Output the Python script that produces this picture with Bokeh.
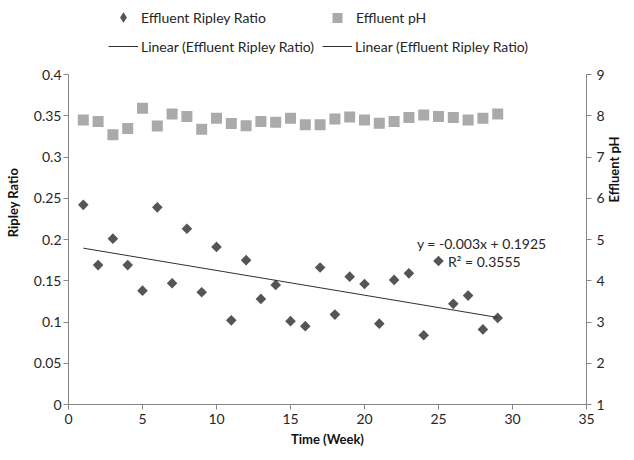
import numpy as np
from bokeh.plotting import figure
from bokeh.models import (Range1d, LinearAxis, FixedTicker, Legend, LegendItem,
                          Label, ColumnDataSource)
from bokeh.embed import file_html
from bokeh.resources import INLINE

# ---- data ----
weeks = list(range(1, 30))
ripley_ratio = [0.242, 0.169, 0.201, 0.169, 0.138, 0.239, 0.147, 0.213, 0.136, 0.191,
                0.102, 0.175, 0.128, 0.145, 0.101, 0.095, 0.166, 0.109, 0.155, 0.146,
                0.098, 0.151, 0.159, 0.084, 0.174, 0.122, 0.132, 0.091, 0.105]
effluent_ph = [7.90, 7.86, 7.54, 7.69, 8.18, 7.75, 8.04, 7.98, 7.67, 7.94,
               7.81, 7.76, 7.86, 7.84, 7.94, 7.78, 7.78, 7.92, 7.97, 7.90,
               7.82, 7.86, 7.96, 8.02, 7.98, 7.96, 7.90, 7.94, 8.04]
trend_slope = -0.003
trend_intercept = 0.1925
trend_r2 = 0.3555

x_ticks = [0, 5, 10, 15, 20, 25, 30, 35]
x_tick_labels = ["0", "5", "10", "15", "20", "25", "30", "35"]
y_ticks = [0, 0.05, 0.1, 0.15, 0.2, 0.25, 0.3, 0.35, 0.4]
y_tick_labels = ["0", "0.05", "0.1", "0.15", "0.2", "0.25", "0.3", "0.35", "0.4"]
ph_ticks = [1, 2, 3, 4, 5, 6, 7, 8, 9]
ph_tick_labels = ["1", "2", "3", "4", "5", "6", "7", "8", "9"]

trend_x = [weeks[0], weeks[-1]]
trend_y = [trend_intercept + trend_slope * w for w in trend_x]

FONT = "Lato"
AX = "#868686"
TXT = "#262626"
DIAMOND = "#555555"
SQUARE = "#aaaaaa"

# layout: frame spans the full height above the x axis so that the legend
# (drawn inside the frame) stays visible; axes are bounded to the data span.
H, BOTTOM, AXIS_SPAN = 460, 56, 330
frame_h = H - BOTTOM
y_lo, y_hi = y_ticks[0], y_ticks[-1]
ph_lo, ph_hi = ph_ticks[0], ph_ticks[-1]
y_end = y_lo + (y_hi - y_lo) * frame_h / AXIS_SPAN
ph_end = ph_lo + (ph_hi - ph_lo) * frame_h / AXIS_SPAN

p = figure(width=634, height=H, x_range=Range1d(x_ticks[0], x_ticks[-1]),
           y_range=Range1d(y_lo, y_end),
           output_backend="svg", toolbar_location=None,
           min_border_left=68, min_border_right=48, min_border_top=0,
           min_border_bottom=BOTTOM)
p.extra_y_ranges = {"ph": Range1d(ph_lo, ph_end)}
p.outline_line_color = None
p.xgrid.visible = False
p.ygrid.visible = False
p.background_fill_color = "white"

src_r = ColumnDataSource(dict(x=weeks, y=ripley_ratio))
src_p = ColumnDataSource(dict(x=weeks, y=effluent_ph))

r_ph = p.scatter("x", "y", source=src_p, marker="square", size=11,
                 fill_color=SQUARE, line_color=None, y_range_name="ph")
# narrow diamond (used as legend glyph), fully covered by the rotated squares
r_rip_leg = p.scatter("x", "y", source=src_r, marker="diamond", size=9,
                      fill_color=DIAMOND, line_color=None)
r_rip = p.scatter("x", "y", source=src_r, marker="square", size=7.5, angle=np.pi / 4,
                  fill_color=DIAMOND, line_color=None)
r_trend = p.line(trend_x, trend_y, line_color="#303030", line_width=1)

left_axis = p.yaxis[0]
bottom_axis = p.xaxis[0]
right_axis = LinearAxis(y_range_name="ph")
p.add_layout(right_axis, "right")

bottom_axis.axis_label = "Time (Week)"
left_axis.axis_label = "Ripley Ratio"
right_axis.axis_label = "Effluent pH"

left_axis.bounds = (y_lo, y_hi)
right_axis.bounds = (ph_lo, ph_hi)

bottom_axis.ticker = FixedTicker(ticks=x_ticks)
bottom_axis.major_label_overrides = dict(zip(x_ticks, x_tick_labels))
left_axis.ticker = FixedTicker(ticks=y_ticks)
left_axis.major_label_overrides = dict(zip(y_ticks, y_tick_labels))
right_axis.ticker = FixedTicker(ticks=ph_ticks)
right_axis.major_label_overrides = dict(zip(ph_ticks, ph_tick_labels))

for ax in [bottom_axis, left_axis, right_axis]:
    ax.axis_line_color = AX
    ax.major_tick_line_color = AX
    ax.minor_tick_line_color = None
    ax.major_tick_out = 5
    ax.major_tick_in = 0
    ax.major_label_text_font = FONT
    ax.major_label_text_font_size = "14px"
    ax.major_label_text_color = TXT
    ax.axis_label_text_font = FONT
    ax.axis_label_text_font_style = "bold"
    ax.axis_label_text_font_size = "13px"
    ax.axis_label_text_color = "#111111"

bottom_axis.major_label_standoff = 4
bottom_axis.axis_label_standoff = 4
left_axis.major_label_standoff = 2
left_axis.axis_label_standoff = 10
right_axis.major_label_standoff = 5
right_axis.axis_label_standoff = 6
right_axis.axis_label_orientation = np.pi / 2


def add_leg(label, renderer, loc, gw, gh, standoff):
    leg = Legend(items=[LegendItem(label=label, renderers=[renderer])],
                 location=loc, orientation="horizontal",
                 glyph_width=gw, glyph_height=gh, label_height=gh,
                 label_standoff=standoff, padding=0, margin=0, spacing=0,
                 background_fill_alpha=0, border_line_alpha=0,
                 label_text_font=FONT, label_text_font_size="14px",
                 label_text_color=TXT)
    p.add_layout(leg, "center")


add_leg("Effluent Ripley Ratio", r_rip_leg, (40, 374), 30, 26, 3)
add_leg("Effluent pH", r_ph, (254, 374), 30, 25, 4)
add_leg("Linear (Effluent Ripley Ratio)", r_trend, (40, 348), 30, 20, 3)
add_leg("Linear (Effluent Ripley Ratio)", r_trend, (254, 348), 30, 20, 3)

p.add_layout(Label(x=32.3, y=0.195, text="y = -0.003x + 0.1925",
                   text_align="right", text_baseline="middle",
                   text_font=FONT, text_font_size="14px", text_color=TXT))
p.add_layout(Label(x=30.55, y=0.1733, text="R\u00b2 = " + str(trend_r2),
                   text_align="right", text_baseline="middle",
                   text_font=FONT, text_font_size="14px", text_color=TXT))

open("out.html", "w").write(file_html(p, INLINE))
